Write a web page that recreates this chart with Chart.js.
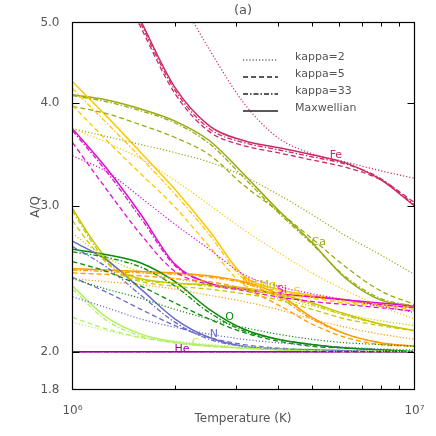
<!DOCTYPE html>
<html><head><meta charset="utf-8">
<script src="https://cdn.jsdelivr.net/npm/chart.js@4.4.0/dist/chart.umd.min.js"></script>
<style>html,body{margin:0;padding:0;background:#fff;}canvas{display:block;}</style>
</head><body>
<canvas id="c" width="436" height="436"></canvas>
<script>
// Temperature grids (K)
const temps   = [1.0e6, 1.259e6, 1.585e6, 1.995e6, 2.512e6, 3.162e6, 3.981e6, 5.012e6, 6.310e6, 7.943e6, 1.0e7];
const tempsMg = [1.0e6, 1.122e6, 1.259e6, 1.413e6, 1.585e6, 1.995e6, 2.512e6, 3.162e6, 3.981e6, 5.012e6, 6.310e6, 7.943e6, 1.0e7];

// A/Q values: k2 = kappa 2, k5 = kappa 5, k33 = kappa 33, mx = Maxwellian
const fe_k2  = [8.0, 7.0, 6.2, 5.45, 4.64, 4.00, 3.63, 3.47, 3.39, 3.31, 3.24];
const fe_k5  = [7.3, 6.0, 4.93, 4.10, 3.69, 3.55, 3.48, 3.41, 3.34, 3.23, 3.03];
const fe_k33 = [7.4, 6.05, 4.98, 4.14, 3.72, 3.58, 3.51, 3.44, 3.37, 3.24, 3.01];
const fe_mx  = [7.5, 6.1, 5.02, 4.17, 3.75, 3.60, 3.53, 3.46, 3.38, 3.23, 3.00];

const ca_k2  = [3.72, 3.64, 3.56, 3.48, 3.39, 3.26, 3.10, 2.93, 2.76, 2.62, 2.48];
const ca_k5  = [3.96, 3.88, 3.76, 3.63, 3.46, 3.18, 2.96, 2.74, 2.53, 2.37, 2.28];
const ca_k33 = [4.08, 4.01, 3.91, 3.78, 3.57, 3.25, 2.95, 2.70, 2.46, 2.32, 2.27];
const ca_mx  = [4.09, 4.03, 3.93, 3.80, 3.60, 3.28, 2.97, 2.71, 2.45, 2.31, 2.27];

const s_k2  = [3.72, 3.58, 3.42, 3.22, 3.01, 2.81, 2.64, 2.49, 2.37, 2.27, 2.19];
const s_k5  = [3.97, 3.60, 3.28, 2.99, 2.68, 2.41, 2.35, 2.32, 2.29, 2.27, 2.25];
const s_k33 = [4.16, 3.78, 3.43, 3.10, 2.77, 2.45, 2.37, 2.33, 2.30, 2.28, 2.26];
const s_mx  = [4.24, 3.85, 3.48, 3.14, 2.80, 2.47, 2.38, 2.34, 2.31, 2.28, 2.26];

const si_k2  = [3.45, 3.30, 3.07, 2.85, 2.66, 2.48, 2.40, 2.35, 2.31, 2.27, 2.23];
const si_k5  = [3.58, 3.14, 2.77, 2.50, 2.41, 2.37, 2.33, 2.30, 2.28, 2.26, 2.24];
const si_k33 = [3.70, 3.30, 2.90, 2.54, 2.42, 2.38, 2.35, 2.33, 2.31, 2.28, 2.26];
const si_mx  = [3.72, 3.33, 2.93, 2.55, 2.42, 2.38, 2.35, 2.33, 2.31, 2.29, 2.27];

const mg_k2  = [2.78, 2.68, 2.60, 2.54, 2.50, 2.45, 2.41, 2.37, 2.32, 2.27, 2.22, 2.18, 2.15];
const mg_k5  = [2.88, 2.70, 2.56, 2.47, 2.43, 2.40, 2.38, 2.35, 2.31, 2.25, 2.19, 2.15, 2.12];
const mg_k33 = [2.96, 2.74, 2.57, 2.48, 2.44, 2.42, 2.40, 2.38, 2.34, 2.28, 2.21, 2.16, 2.12];
const mg_mx  = [2.98, 2.76, 2.59, 2.49, 2.45, 2.42, 2.41, 2.39, 2.35, 2.29, 2.22, 2.16, 2.12];

const ne_k2  = [2.45, 2.43, 2.41, 2.38, 2.34, 2.30, 2.25, 2.19, 2.14, 2.10, 2.07];
const ne_k5  = [2.49, 2.48, 2.47, 2.45, 2.43, 2.38, 2.28, 2.16, 2.08, 2.04, 2.03];
const ne_k33 = [2.51, 2.50, 2.49, 2.48, 2.46, 2.42, 2.33, 2.19, 2.10, 2.05, 2.03];
const ne_mx  = [2.52, 2.51, 2.50, 2.49, 2.47, 2.43, 2.35, 2.20, 2.10, 2.05, 2.03];

const o_k2  = [2.45, 2.38, 2.32, 2.25, 2.19, 2.14, 2.10, 2.07, 2.05, 2.04, 2.03];
const o_k5  = [2.57, 2.50, 2.40, 2.29, 2.19, 2.11, 2.06, 2.03, 2.02, 2.01, 2.00];
const o_k33 = [2.64, 2.60, 2.53, 2.40, 2.23, 2.12, 2.07, 2.04, 2.02, 2.01, 2.00];
const o_mx  = [2.66, 2.62, 2.56, 2.43, 2.25, 2.13, 2.07, 2.04, 2.02, 2.01, 2.00];

const n_k2  = [2.33, 2.26, 2.19, 2.14, 2.10, 2.07, 2.05, 2.035, 2.025, 2.015, 2.01];
const n_k5  = [2.46, 2.36, 2.25, 2.15, 2.08, 2.04, 2.02, 2.01, 2.005, 2.0, 2.0];
const n_k33 = [2.68, 2.53, 2.34, 2.17, 2.07, 2.03, 2.015, 2.01, 2.005, 2.0, 2.0];
const n_mx  = [2.72, 2.58, 2.38, 2.19, 2.08, 2.03, 2.015, 2.01, 2.005, 2.0, 2.0];

const c_k2  = [2.17, 2.12, 2.08, 2.06, 2.04, 2.03, 2.02, 2.015, 2.01, 2.005, 2.0];
const c_k5  = [2.20, 2.13, 2.08, 2.05, 2.03, 2.02, 2.01, 2.005, 2.0, 2.0, 2.0];
const c_k33 = [2.38, 2.18, 2.09, 2.05, 2.03, 2.02, 2.01, 2.005, 2.0, 2.0, 2.0];
const c_mx  = [2.40, 2.20, 2.10, 2.055, 2.035, 2.02, 2.01, 2.005, 2.0, 2.0, 2.0];

const he_all = [2.0, 2.0, 2.0, 2.0, 2.0, 2.0, 2.0, 2.0, 2.0, 2.0, 2.0];

// Element labels (text, temperature, A/Q)
const elNames = ['Fe', 'Ca', 'Ne', 'Mg', 'Si', 'S', 'O', 'N', 'C', 'He'];
const elLabT  = [5.89e6, 5.25e6, 3.30e6, 3.72e6, 4.09e6, 4.53e6, 2.88e6, 2.59e6, 2.29e6, 2.09e6];
const elLabV  = [3.46, 2.71, 2.43, 2.41, 2.375, 2.36, 2.20, 2.10, 2.05, 2.015];

// Axis ticks
const yTickVals = [1.8, 2.0, 3.0, 4.0, 5.0];
const yMajorMarks = [2.0, 3.0, 4.0];
const xTickVals = [1e6, 1e7];
const xMinorMarks = [2e6, 3e6, 4e6, 5e6, 6e6, 7e6, 8e6, 9e6];
const legendNames = ['kappa=2', 'kappa=5', 'kappa=33', 'Maxwellian'];

// Styles
const COL = {fe:'#cc2a66', ca:'#99aa10', s:'#ffc800', si:'#dd10cc', mg:'#c8c800', ne:'#ff9a00', o:'#0a8c0a', n:'#6a6acc', c:'#b4f064', he:'#a000a0'};
const DASH = {k2:[1.2,2], k5:[5,3], k33:[5,2,1.5,2], mx:[]};
const WID = {k2:1.2, k5:1.3, k33:1.3, mx:1.5};

const groups = [
  ['he', temps, {k2:he_all, k5:he_all, k33:he_all, mx:he_all}],
  ['c',  temps, {k2:c_k2, k5:c_k5, k33:c_k33, mx:c_mx}],
  ['n',  temps, {k2:n_k2, k5:n_k5, k33:n_k33, mx:n_mx}],
  ['o',  temps, {k2:o_k2, k5:o_k5, k33:o_k33, mx:o_mx}],
  ['ne', temps, {k2:ne_k2, k5:ne_k5, k33:ne_k33, mx:ne_mx}],
  ['mg', tempsMg, {k2:mg_k2, k5:mg_k5, k33:mg_k33, mx:mg_mx}],
  ['si', temps, {k2:si_k2, k5:si_k5, k33:si_k33, mx:si_mx}],
  ['s',  temps, {k2:s_k2, k5:s_k5, k33:s_k33, mx:s_mx}],
  ['ca', temps, {k2:ca_k2, k5:ca_k5, k33:ca_k33, mx:ca_mx}],
  ['fe', temps, {k2:fe_k2, k5:fe_k5, k33:fe_k33, mx:fe_mx}],
];
const datasets = [];
['k2','k5','k33','mx'].forEach(k => {
  groups.forEach(([el, T, v]) => {
    datasets.push({
      label: el + '_' + k,
      data: T.map((t, i) => ({x: t, y: v[k][i]})),
      borderColor: COL[el], borderWidth: WID[k], borderDash: DASH[k],
      pointRadius: 0, fill: false, cubicInterpolationMode: 'monotone'
    });
  });
});

const FONT = '"DejaVu Sans", sans-serif';
const TXT = '#555';
const decor = {
  id: 'decor',
  afterDatasetsDraw(chart) {
    const {ctx, chartArea: a, scales: {x, y}} = chart;
    const ln = (x1, y1, x2, y2) => { ctx.beginPath(); ctx.moveTo(x1, y1); ctx.lineTo(x2, y2); ctx.stroke(); };
    ctx.save();
    // element labels
    ctx.font = '11px ' + FONT; ctx.textAlign = 'center'; ctx.textBaseline = 'middle';
    const keys = ['fe','ca','ne','mg','si','s','o','n','c','he'];
    elNames.forEach((n, i) => {
      ctx.fillStyle = COL[keys[i]];
      ctx.fillText(n, x.getPixelForValue(elLabT[i]), y.getPixelForValue(elLabV[i]));
    });
    // frame
    ctx.strokeStyle = '#000'; ctx.lineWidth = 1.2; ctx.setLineDash([]);
    ctx.strokeRect(a.left, a.top, a.right - a.left, a.bottom - a.top);
    ctx.lineWidth = 1;
    xMinorMarks.forEach(t => { const p = Math.round(x.getPixelForValue(t)) + 0.5; ln(p, a.bottom, p, a.bottom - 4); ln(p, a.top, p, a.top + 4); });
    yMajorMarks.forEach(v => { const p = Math.round(y.getPixelForValue(v)) + 0.5; ln(a.left, p, a.left + 7, p); ln(a.right, p, a.right - 7, p); });
    // legend
    const lx1 = 243, lx2 = 278, ly = [60, 77, 94, 111];
    ['k2','k5','k33','mx'].forEach((k, i) => {
      ctx.strokeStyle = '#222'; ctx.lineWidth = WID[k]; ctx.setLineDash(DASH[k]);
      ln(lx1, ly[i], lx2, ly[i]);
      ctx.setLineDash([]);
      ctx.fillStyle = TXT; ctx.font = '11px ' + FONT; ctx.textAlign = 'left'; ctx.textBaseline = 'middle';
      ctx.fillText(legendNames[i], 295, ly[i] - 3);
    });
    // titles
    ctx.fillStyle = TXT; ctx.textAlign = 'center'; ctx.textBaseline = 'middle';
    ctx.font = '13px ' + FONT; ctx.fillText('(a)', 243, 11);
    ctx.font = '12px ' + FONT; ctx.fillText('Temperature (K)', 243, 419);
    ctx.translate(36, 207); ctx.rotate(-Math.PI / 2); ctx.fillText('A/Q', 0, 0);
    ctx.restore();
  }
};

const sup = {'6':'\u2076', '7':'\u2077'};
new Chart(document.getElementById('c'), {
  type: 'line',
  data: {datasets},
  options: {
    responsive: false, animation: false, devicePixelRatio: 1,
    layout: {padding: {top: 22.5, right: 21.5, left: 0, bottom: 0}},
    plugins: {legend: {display: false}, tooltip: {enabled: false}},
    scales: {
      x: {
        type: 'logarithmic', min: 1e6, max: 1e7,
        grid: {display: false}, border: {display: false},
        afterBuildTicks: s => { s.ticks = xTickVals.map(v => ({value: v})); },
        afterFit: s => { s.height = 46.5; },
        ticks: {padding: 6, color: TXT, font: {size: 12, family: FONT}, maxRotation: 0,
          callback: v => '10' + sup[String(Math.round(Math.log10(v)))]}
      },
      y: {
        type: 'logarithmic', min: 1.8, max: 5.0,
        grid: {display: false}, border: {display: false},
        afterBuildTicks: s => { s.ticks = yTickVals.map(v => ({value: v})); },
        afterFit: s => { s.width = 72.5; },
        ticks: {padding: 5, color: TXT, font: {size: 12, family: FONT},
          callback: v => Number(v).toFixed(1)}
      }
    }
  },
  plugins: [decor]
});
</script>
</body></html>
